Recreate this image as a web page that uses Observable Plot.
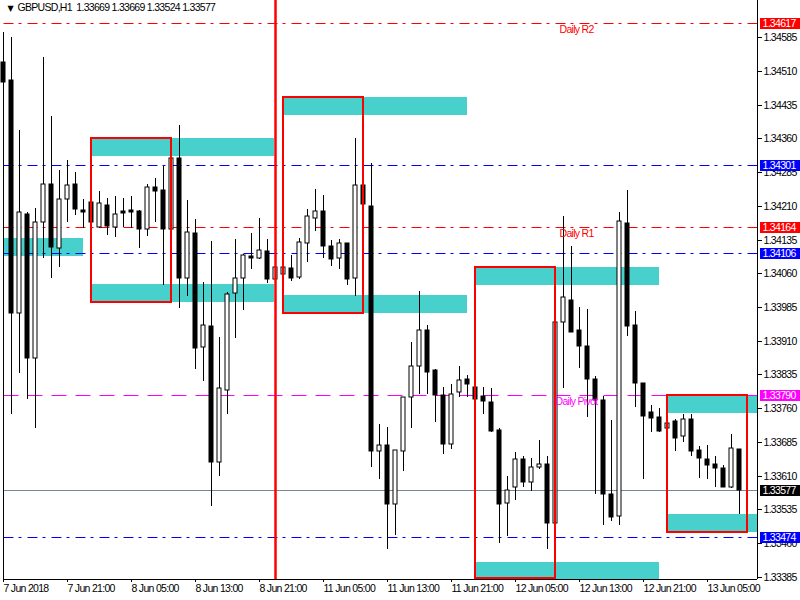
<!DOCTYPE html>
<html>
<head>
<meta charset="utf-8">
<script src="https://cdn.jsdelivr.net/npm/d3@7"></script>
<script src="https://cdn.jsdelivr.net/npm/@observablehq/plot@0.6"></script>
<style>
  html, body { margin: 0; padding: 0; background: #fff; }
  #chart svg { display: block; }
  #chart svg text { letter-spacing: -0.7px; }
</style>
</head>
<body>
<div id="chart"></div>
<script>
// ---- data ----
const symbol = "GBPUSD,H1";
const opens = [1.34531,1.34490,1.33971,1.34193,1.33871,1.34175,1.34258,1.34116,1.34225,1.34258,
1.34200,1.34219,1.34164,1.34213,1.34162,1.34199,1.34201,1.34199,1.34158,1.34251,
1.34245,1.34159,1.34316,1.34049,1.34149,1.33897,1.33942,1.33641,1.33800,1.34017,
1.34049,1.34098,1.34095,1.34110,1.34047,1.34059,1.34072,1.34052,1.34128,1.34184,
1.34199,1.34120,1.34093,1.34127,1.34049,1.34256,1.34210,1.33665,1.33679,1.33547,
1.33665,1.33784,1.33853,1.33933,1.33845,1.33789,1.33681,1.33795,1.33824,1.33806,
1.33788,1.33773,1.33711,1.33548,1.33584,1.33646,1.33596,1.33628,1.33635,1.33505,
1.33952,1.34001,1.33934,1.33899,1.33825,1.33778,1.33569,1.33521,1.34172,1.33945,
1.33815,1.33751,1.33740,1.33715,1.33732,1.33698,1.33736,1.33667,1.33647,1.33636,
1.33626,1.33585,1.33669];
const highs = [1.34597,1.34585,1.34379,1.34197,1.34206,1.34541,1.34410,1.34290,1.34312,1.34286,
1.34226,1.34223,1.34243,1.34228,1.34232,1.34227,1.34232,1.34201,1.34258,1.34271,
1.34299,1.34319,1.34390,1.34223,1.34181,1.34040,1.34132,1.33918,1.34018,1.34136,
1.34102,1.34150,1.34183,1.34136,1.34078,1.34076,1.34101,1.34139,1.34203,1.34248,
1.34234,1.34134,1.34136,1.34127,1.34361,1.34256,1.34305,1.33725,1.33719,1.33667,
1.33785,1.33907,1.34021,1.33945,1.33847,1.33806,1.33813,1.33854,1.33834,1.33807,
1.33806,1.33804,1.33716,1.33609,1.33662,1.33653,1.33648,1.33689,1.33653,1.33955,
1.34187,1.34121,1.33986,1.33980,1.33831,1.33787,1.33734,1.34196,1.34245,1.33976,
1.33815,1.33767,1.33760,1.33729,1.33735,1.33748,1.33747,1.33676,1.33678,1.33653,
1.33633,1.33702,1.33669];
const lows = [1.34468,1.33748,1.33839,1.33781,1.33715,1.34093,1.34049,1.34075,1.34175,1.34190,
1.34161,1.34172,1.34161,1.34145,1.34141,1.34164,1.34161,1.34116,1.34144,1.34175,
1.34035,1.34158,1.33983,1.34010,1.33846,1.33821,1.33543,1.33610,1.33748,1.33917,
1.33979,1.34070,1.34092,1.34039,1.34045,1.34058,1.34043,1.34047,1.34086,1.34154,
1.34095,1.34077,1.34069,1.34035,1.34010,1.34214,1.33630,1.33602,1.33446,1.33478,
1.33620,1.33716,1.33791,1.33791,1.33730,1.33658,1.33669,1.33785,1.33784,1.33778,
1.33748,1.33707,1.33459,1.33475,1.33556,1.33585,1.33576,1.33624,1.33446,1.33500,
1.33804,1.33930,1.33849,1.33741,1.33570,1.33501,1.33509,1.33500,1.33921,1.33763,
1.33603,1.33707,1.33707,1.33714,1.33665,1.33685,1.33653,1.33605,1.33602,1.33584,
1.33584,1.33582,1.33524];
const closes = [1.34486,1.33971,1.34196,1.33871,1.34175,1.34258,1.34119,1.34225,1.34256,1.34202,
1.34197,1.34175,1.34216,1.34165,1.34193,1.34195,1.34197,1.34158,1.34251,1.34244,
1.34159,1.34316,1.34049,1.34151,1.33894,1.33944,1.33641,1.33804,1.34015,1.34049,
1.34101,1.34095,1.34111,1.34048,1.34074,1.34074,1.34049,1.34129,1.34187,1.34199,
1.34121,1.34092,1.34127,1.34048,1.34256,1.34215,1.33665,1.33679,1.33547,1.33666,
1.33784,1.33853,1.33933,1.33841,1.33789,1.33681,1.33791,1.33822,1.33813,1.33780,
1.33775,1.33710,1.33546,1.33579,1.33646,1.33596,1.33628,1.33635,1.33505,1.33952,
1.34007,1.33930,1.33899,1.33825,1.33778,1.33570,1.33517,1.34176,1.33943,1.33815,
1.33743,1.33737,1.33710,1.33728,1.33694,1.33736,1.33665,1.33648,1.33633,1.33626,
1.33585,1.33671,1.33577];

const xTickBars = [0, 8, 16, 24, 32, 40, 48, 56, 64, 72, 80, 88];
const xTickLabels = ["7 Jun 2018","7 Jun 21:00","8 Jun 05:00","8 Jun 13:00","8 Jun 21:00","11 Jun 05:00",
  "11 Jun 13:00","11 Jun 21:00","12 Jun 05:00","12 Jun 13:00","12 Jun 21:00","13 Jun 05:00"];
const yTicks = [1.34585,1.34510,1.34435,1.34360,1.34285,1.34210,1.34135,1.34060,1.33985,
  1.33910,1.33835,1.33760,1.33685,1.33610,1.33535,1.33460,1.33385];

const levelPrices = [1.34617, 1.34301, 1.34164, 1.34106, 1.33790, 1.33577, 1.33474];
const levelColors = ["#ff0000", "#0000ff", "#ff0000", "#0000ff", "#ff00ff", "#778899", "#0000ff"];
const levelDash   = ["10 5 3 6", "10 5 3 6", "10 5 3 6", "10 5 3 6", "15 9", null, "10 5 3 6"];
const levelLabelBg = ["#ff0000", "#0000ff", "#ff0000", "#0000ff", "#ff00ff", "#000000", "#0000ff"];

const pivotNames  = ["Daily R2", "Daily R1", "Daily Pivot"];
const pivotPrices = [1.34617, 1.34164, 1.33790];
const pivotColors = ["#ff0000", "#ff0000", "#ff00ff"];
const pivotBars   = [69.5, 69.5, 69];

const zoneStart  = [0, 11, 11, 35, 35, 59, 59, 83, 83];
const zoneEnd    = [10, 33.9, 33.9, 58, 58, 82, 82, 94.25, 94.25];
const zoneTop    = [1.34139, 1.34360, 1.34036, 1.34452, 1.34012, 1.34073, 1.33418, 1.33789, 1.33524];
const zoneBottom = [1.34099, 1.34322, 1.33997, 1.34413, 1.33972, 1.34034, 1.33380, 1.33750, 1.33485];

const boxStart  = [11, 35, 59, 83];
const boxEnd    = [21, 45, 69, 93];
const boxTop    = [1.34360, 1.34452, 1.34075, 1.33789];
const boxBottom = [1.33997, 1.33972, 1.33382, 1.33485];

const separatorBar = 34;

// ---- build ----
const yMin = 1.333799, yMax = 1.346680;
const xMax = 94.25;
const idx = opens.map((_, i) => i);
const bull = i => closes[i] > opens[i];
const zIdx = zoneStart.map((_, i) => i);
const bIdx = boxStart.map((_, i) => i);
const lIdx = levelPrices.map((_, i) => i);
const pIdx = pivotNames.map((_, i) => i);
const last = opens.length - 1;
const header = `${symbol}\u00a0 ${opens[last].toFixed(5)} ${highs[last].toFixed(5)} ${lows[last].toFixed(5)} ${closes[last].toFixed(5)}`;
const font = "'Liberation Sans', Arial, sans-serif";
const fs = 10.5;

const levelLines = lIdx.map(i => Plot.line([[0, levelPrices[i]], [xMax, levelPrices[i]]], {
  x: d => d[0], y: d => d[1], stroke: levelColors[i], strokeWidth: 1,
  strokeDasharray: levelDash[i] || undefined, strokeLinecap: "butt", curve: "linear"
}));

const chart = Plot.plot({
  width: 800,
  height: 600,
  marginLeft: 3,
  marginRight: 43,
  marginTop: 0,
  marginBottom: 21,
  x: {type: "linear", domain: [0, xMax], axis: null, round: true},
  y: {type: "linear", domain: [yMin, yMax], axis: null, round: true},
  style: {background: "#ffffff", fontFamily: font, fontSize: fs + "px", color: "#000", overflow: "visible"},
  marks: [
    Plot.rect(zIdx, {x1: i => zoneStart[i], x2: i => zoneEnd[i], y1: i => zoneBottom[i], y2: i => zoneTop[i],
      fill: "#48d1cc", inset: 0}),
    ...levelLines,
    Plot.ruleX(idx, {x: i => i, y1: i => lows[i], y2: i => highs[i], stroke: "#000000", strokeWidth: 1}),
    Plot.rect(idx, {x1: i => i - 0.25, x2: i => i + 0.25,
      y1: i => Math.min(opens[i], closes[i]), y2: i => Math.max(opens[i], closes[i]),
      fill: i => bull(i) ? "#ffffff" : "#000000", stroke: "#000000", strokeWidth: 1, inset: 0}),
    Plot.rect(bIdx, {x1: i => boxStart[i], x2: i => boxEnd[i], y1: i => boxBottom[i], y2: i => boxTop[i],
      fill: "none", stroke: "#ff0000", strokeWidth: 2, inset: 0}),
    Plot.ruleX([separatorBar], {stroke: "#ff0000", strokeWidth: 2.5}),
    Plot.ruleX([0], {y1: highs[0], y2: yMin, stroke: "#000000"}),
    Plot.ruleX([xMax], {stroke: "#000000"}),
    Plot.ruleY([yMin], {x1: 0, x2: xMax, stroke: "#000000"}),
    Plot.axisY(yTicks, {anchor: "right", tickSize: 4, tickPadding: 2, tickFormat: d => d.toFixed(5),
      fill: "#000", stroke: "#000", fontSize: fs, fontFamily: font}),
    Plot.axisX(xTickBars, {anchor: "bottom", tickSize: 3, tickPadding: 2, textAnchor: "start",
      tickFormat: d => xTickLabels[xTickBars.indexOf(d)], fill: "#000", stroke: "#000", fontSize: fs, fontFamily: font}),
    Plot.ruleY(lIdx, {y: i => levelPrices[i], x1: 94.625, x2: 99.6, stroke: i => levelLabelBg[i], strokeWidth: 11}),
    Plot.text(lIdx, {y: i => levelPrices[i], x: 94.85, text: i => levelPrices[i].toFixed(5), textAnchor: "start",
      fill: "#ffffff", fontSize: fs, fontFamily: font}),
    Plot.text(pIdx, {x: i => pivotBars[i], y: i => pivotPrices[i], text: i => pivotNames[i], textAnchor: "start",
      lineAnchor: "top", dy: 2, fill: i => pivotColors[i], fontSize: fs, fontFamily: font}),
    Plot.text([header], {frameAnchor: "top-left", dx: 14, dy: 3, lineAnchor: "top", textAnchor: "start",
      fill: "#000", fontSize: fs, fontFamily: font}),
    Plot.text(["\u25bc"], {frameAnchor: "top-left", dx: 4, dy: 5, lineAnchor: "top", textAnchor: "start",
      fill: "#000", fontSize: 8, fontFamily: "DejaVu Sans"})
  ]
});
document.getElementById("chart").appendChild(chart);
</script>
</body>
</html>
